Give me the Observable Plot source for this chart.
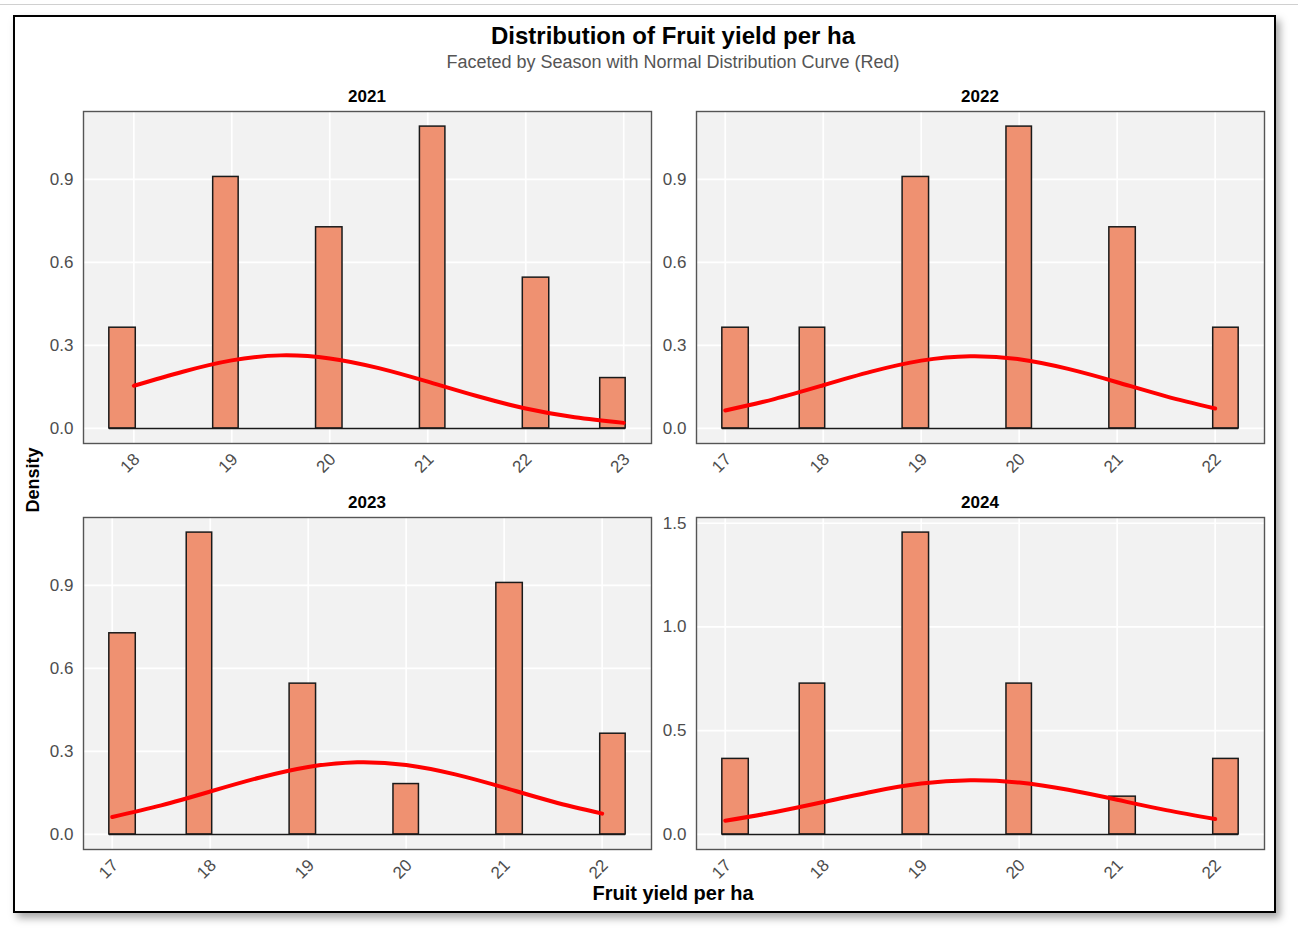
<!DOCTYPE html>
<html><head><meta charset="utf-8">
<script src="https://cdn.jsdelivr.net/npm/d3@7"></script>
<script src="https://cdn.jsdelivr.net/npm/@observablehq/plot@0.6"></script>
<style>
html,body{margin:0;padding:0;background:#fff;}
body{width:1298px;height:933px;position:relative;overflow:hidden;font-family:"Liberation Sans",Arial,sans-serif;}
#topline{position:absolute;left:0;top:4px;width:1298px;height:1px;background:#d0d0d0;}
#frame{position:absolute;left:13px;top:15px;width:1259px;height:894px;border:2.5px solid #000;box-shadow:4px 5px 8px rgba(0,0,0,0.35);background:#fff;}
.lbl{position:absolute;white-space:nowrap;line-height:1;transform:translate(-50%,-50%);}
.pl{position:absolute;}
</style>
</head><body>
<div id="topline"></div>
<div id="frame"></div>
<script>
// ---- data ----
const seasons = ["2021", "2022", "2023", "2024"];

// histogram bins (left / right edges in yield units) and densities
const binStart2021 = [17.75, 18.81, 19.86, 20.92, 21.97, 22.76];
const binEnd2021   = [18.02, 19.07, 20.13, 21.18, 22.24, 23.02];
const density2021  = [0.364, 0.909, 0.727, 1.091, 0.545, 0.182];

const binStart2022 = [16.97, 17.76, 18.81, 19.87, 20.92, 21.98];
const binEnd2022   = [17.24, 18.02, 19.08, 20.13, 21.19, 22.24];
const density2022  = [0.364, 0.364, 0.909, 1.091, 0.727, 0.364];

const binStart2023 = [16.97, 17.76, 18.81, 19.87, 20.92, 21.98];
const binEnd2023   = [17.24, 18.02, 19.08, 20.13, 21.19, 22.24];
const density2023  = [0.727, 1.091, 0.545, 0.182, 0.909, 0.364];

const binStart2024 = [16.97, 17.76, 18.81, 19.87, 20.92, 21.98];
const binEnd2024   = [17.24, 18.02, 19.08, 20.13, 21.19, 22.24];
const density2024  = [0.364, 0.727, 1.455, 0.727, 0.182, 0.364];

// normal curve points
const curveX2021 = [18, 18.5, 19, 19.5, 20, 20.5, 21, 21.5, 22, 22.5, 23];
const curveY2021 = [0.154, 0.205, 0.246, 0.264, 0.253, 0.218, 0.169, 0.117, 0.072, 0.040, 0.020];
const curveX2022 = [17, 17.5, 18, 18.5, 19, 19.5, 20, 20.5, 21, 21.5, 22];
const curveY2022 = [0.065, 0.106, 0.156, 0.206, 0.245, 0.261, 0.250, 0.215, 0.167, 0.116, 0.072];
const curveX2023 = [17, 17.5, 18, 18.5, 19, 19.5, 20, 20.5, 21, 21.5, 22];
const curveY2023 = [0.063, 0.105, 0.155, 0.205, 0.244, 0.261, 0.251, 0.217, 0.169, 0.118, 0.075];
const curveX2024 = [17, 17.5, 18, 18.5, 19, 19.5, 20, 20.5, 21, 21.5, 22];
const curveY2024 = [0.066, 0.107, 0.156, 0.206, 0.245, 0.261, 0.250, 0.215, 0.167, 0.117, 0.074];

// tick labels
const xTicks2021 = [18, 19, 20, 21, 22, 23];
const xTicksOther = [17, 18, 19, 20, 21, 22];
const yTicksA = [0, 0.3, 0.6, 0.9];
const yTicks2024 = [0, 0.5, 1.0, 1.5];

const titleText = "Distribution of Fruit yield per ha";
const subtitleText = "Faceted by Season with Normal Distribution Curve (Red)";
const xTitle = "Fruit yield per ha";
const yTitle = "Density";

// ---- drawing ----
function label(text, cx, cy, size, weight, color, rot) {
  const d = document.createElement("div");
  d.className = "lbl";
  d.textContent = text;
  d.style.left = cx + "px";
  d.style.top = cy + "px";
  d.style.fontSize = size + "px";
  d.style.fontWeight = weight;
  d.style.color = color;
  if (rot) d.style.transform = "translate(-50%,-50%) rotate(" + rot + "deg)";
  document.body.appendChild(d);
}

const PW = 568, PH = 332, ML = 50, MR = 10, MT = 5, MB = 45;

function panel(season, starts, ends, dens, cx, cy, xt, yt, left, top) {
  const bars = starts.map((s, i) => ({x1: s, x2: ends[i], y: dens[i]}));
  const curve = cx.map((x, i) => ({x, y: cy[i]}));
  const lo = d3.min(starts), hi = d3.max(ends), pad = (hi - lo) * 0.05;
  const ymax = d3.max(dens);
  const chart = Plot.plot({
    width: ML + PW + MR, height: MT + PH + MB,
    marginLeft: ML, marginRight: MR, marginTop: MT, marginBottom: MB,
    x: {domain: [lo - pad, hi + pad]},
    y: {domain: [-0.05 * ymax, 1.05 * ymax]},
    style: {fontFamily: "Liberation Sans, Arial, sans-serif", fontSize: "17px", color: "#4d4d4d", background: "transparent", overflow: "visible"},
    marks: [
      Plot.frame({fill: "#f2f2f2"}),
      Plot.gridX(xt, {stroke: "#ffffff", strokeOpacity: 1, strokeWidth: 1.7}),
      Plot.gridY(yt, {stroke: "#ffffff", strokeOpacity: 1, strokeWidth: 1.7}),
      Plot.ruleY([0], {x1: lo, x2: hi, stroke: "#1a1a1a", strokeWidth: 1.5}),
      Plot.rect(bars, {x1: "x1", x2: "x2", y1: 0, y2: "y", fill: "#ef9171", stroke: "#1a1a1a", strokeWidth: 1.5}),
      Plot.line(curve, {x: "x", y: "y", stroke: "#ff0000", strokeWidth: 4, curve: "natural"}),
      Plot.axisY(yt, {tickSize: 0, tickPadding: 10, tickFormat: d3.format(".1f"), label: null, fontSize: 17}),
      Plot.axisX(xt, {tickSize: 0, tickPadding: 8, tickRotate: -45, label: null, fontSize: 17, dx: 3, dy: 5}),
      Plot.frame({stroke: "#555555", strokeWidth: 1.4})
    ]
  });
  chart.classList.add("pl");
  chart.style.left = (left - ML) + "px";
  chart.style.top = (top - MT) + "px";
  document.body.appendChild(chart);
  label(season, left + PW / 2, top - 15, 17, "bold", "#000");
}

panel(seasons[0], binStart2021, binEnd2021, density2021, curveX2021, curveY2021, xTicks2021, yTicksA, 83, 111);
panel(seasons[1], binStart2022, binEnd2022, density2022, curveX2022, curveY2022, xTicksOther, yTicksA, 696, 111);
panel(seasons[2], binStart2023, binEnd2023, density2023, curveX2023, curveY2023, xTicksOther, yTicksA, 83, 517);
panel(seasons[3], binStart2024, binEnd2024, density2024, curveX2024, curveY2024, xTicksOther, yTicks2024, 696, 517);

label(titleText, 673, 36, 24, "bold", "#000");
label(subtitleText, 673, 62, 18, "normal", "#555");
label(xTitle, 673, 893, 20, "bold", "#000");
label(yTitle, 33, 480, 18, "bold", "#000", -90);
</script>
</body></html>
